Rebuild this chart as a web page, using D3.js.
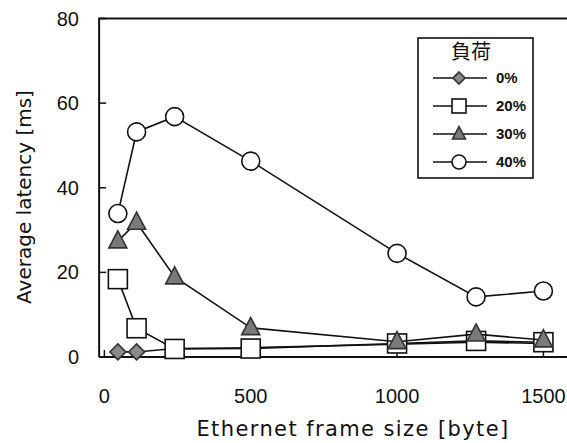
<!DOCTYPE html>
<html>
<head>
<meta charset="utf-8">
<script src="https://d3js.org/d3.v7.min.js"></script>
<style>
body { margin: 0; background: #fff; }
text { fill: #111; }
</style>
</head>
<body>
<svg id="chart" width="567" height="443"></svg>
<script>
// frame size [byte] and average latency [ms] per load
var frameSizes = [46, 110, 240, 500, 1000, 1270, 1500];
var load0  = [1.2, 1.2, 2.0, 2.2, 3.0, 3.5, 3.2];
var load20 = [18.4, 6.8, 1.9, 2.0, 3.2, 3.8, 3.5];
var load30 = [27.4, 31.8, 18.9, 6.9, 3.6, 5.4, 4.0];
var load40 = [33.9, 53.2, 56.8, 46.3, 24.5, 14.2, 15.6];
var seriesNames = ["0%", "20%", "30%", "40%"];
var xTicks = [0, 500, 1000, 1500];
var yTicks = [0, 20, 40, 60, 80];

var svg = d3.select("#chart");

var x = d3.scaleLinear().domain([0, 1500]).range([104.4, 543.4]);
var y = d3.scaleLinear().domain([0, 80]).range([357, 18.5]);
var xLeft = x(-18), xRight = x(1600);

var styles = [
  { sym: "diamond", fill: "#8a8a8a", stroke: "#333" },
  { sym: "square",  fill: "#fff",    stroke: "#111" },
  { sym: "triangle",fill: "#7a7a7a", stroke: "#333" },
  { sym: "circle",  fill: "#fff",    stroke: "#111" }
];
var allSeries = [load0, load20, load30, load40];

function marker(g, kind, s, st) {
  if (kind == "circle") {
    g.append("circle").attr("r", s / 2);
  } else if (kind == "square") {
    g.append("rect").attr("x", -s / 2).attr("y", -s / 2).attr("width", s).attr("height", s);
  } else if (kind == "diamond") {
    var h = s / 2;
    g.append("path").attr("d", "M0," + (-h) + "L" + h + ",0L0," + h + "L" + (-h) + ",0Z");
  } else {
    var h = s * 0.95;
    g.append("path").attr("d", "M0," + (-h * 0.6) + "L" + (s / 2) + "," + (h * 0.4) + "L" + (-s / 2) + "," + (h * 0.4) + "Z");
  }
  g.selectAll("*").attr("fill", st.fill).attr("stroke", st.stroke).attr("stroke-width", 1.6);
}

// frame
svg.append("path")
  .attr("d", "M" + xLeft + "," + y(0) + "L" + xLeft + "," + y(80) + "L" + xRight + "," + y(80))
  .attr("fill", "none").attr("stroke", "#111").attr("stroke-width", 2);
svg.append("line")
  .attr("x1", xLeft).attr("x2", xRight).attr("y1", y(0)).attr("y2", y(0))
  .attr("stroke", "#111").attr("stroke-width", 2);

// ticks (inward)
svg.selectAll(".ytick").data(yTicks).enter().append("line")
  .attr("x1", xLeft).attr("x2", xLeft + 7)
  .attr("y1", function(d) { return y(d); }).attr("y2", function(d) { return y(d); })
  .attr("stroke", "#111").attr("stroke-width", 1.5);
svg.selectAll(".xtick").data(xTicks).enter().append("line")
  .attr("x1", function(d) { return x(d); }).attr("x2", function(d) { return x(d); })
  .attr("y1", y(0)).attr("y2", y(0) - 7)
  .attr("stroke", "#111").attr("stroke-width", 1.5);

// tick labels
svg.selectAll(".ylab").data(yTicks).enter().append("text")
  .attr("x", 79).attr("y", function(d) { return y(d) + 7; })
  .attr("text-anchor", "end")
  .style("font-family", "'Liberation Sans', Arial, sans-serif").style("font-size", "20px")
  .text(function(d) { return d; });
svg.selectAll(".xlab").data(xTicks).enter().append("text")
  .attr("x", function(d) { return x(d); }).attr("y", 403)
  .attr("text-anchor", "middle")
  .style("font-family", "'Liberation Sans', Arial, sans-serif").style("font-size", "20px")
  .text(function(d) { return d; });

// axis titles
svg.append("text")
  .attr("x", 353).attr("y", 436).attr("text-anchor", "middle")
  .style("font-family", "'DejaVu Sans', sans-serif").style("font-size", "21px")
  .style("letter-spacing", "1.4px")
  .text("Ethernet frame size [byte]");
svg.append("text")
  .attr("transform", "translate(31,197) rotate(-90)").attr("text-anchor", "middle")
  .style("font-family", "'DejaVu Sans', sans-serif").style("font-size", "20px")
  .text("Average latency [ms]");

// series
var line = d3.line()
  .x(function(d) { return x(d[0]); })
  .y(function(d) { return y(d[1]); });

allSeries.forEach(function(vals, i) {
  var pts = frameSizes.map(function(f, j) { return [f, vals[j]]; });
  svg.append("path").datum(pts)
    .attr("fill", "none").attr("stroke", "#111").attr("stroke-width", 1.6)
    .attr("d", line);
  var size = [16, 19, 18, 18][i];
  pts.forEach(function(p) {
    var g = svg.append("g").attr("transform", "translate(" + x(p[0]) + "," + y(p[1]) + ")");
    marker(g, styles[i].sym, size, styles[i]);
  });
});

// legend
var lg = svg.append("g");
lg.append("rect").attr("x", 418).attr("y", 38).attr("width", 115).attr("height", 140)
  .attr("fill", "#fff").attr("stroke", "#111").attr("stroke-width", 1.6);
lg.append("text").attr("x", 471).attr("y", 59).attr("text-anchor", "middle")
  .style("font-family", "'Noto Sans CJK JP', sans-serif").style("font-size", "20px")
  .text("負荷");
seriesNames.forEach(function(name, i) {
  var ry = 78 + i * 28;
  lg.append("line").attr("x1", 433).attr("x2", 487).attr("y1", ry).attr("y2", ry)
    .attr("stroke", "#111").attr("stroke-width", 1.5);
  var g = lg.append("g").attr("transform", "translate(459," + ry + ")");
  marker(g, styles[i].sym, [12, 14, 13, 14][i], styles[i]);
  lg.append("text").attr("x", 496).attr("y", ry + 5)
    .style("font-family", "'Liberation Sans', Arial, sans-serif").style("font-size", "15px")
    .style("font-weight", "bold")
    .text(name);
});
</script>
</body>
</html>
